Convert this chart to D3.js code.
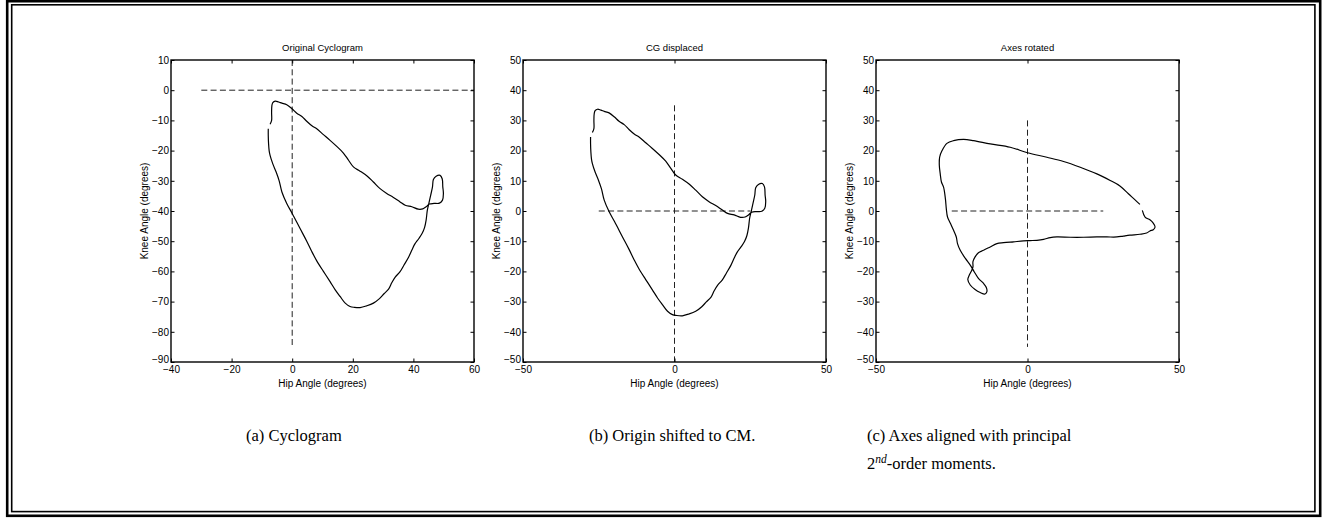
<!DOCTYPE html>
<html>
<head>
<meta charset="utf-8">
<script src="https://cdn.jsdelivr.net/npm/d3@7"></script>
<style>
  html, body { margin: 0; padding: 0; background: #fff; }
  svg { display: block; }
  .tick text { font-family: "Liberation Sans", Arial, sans-serif; font-size: 10px; fill: #000; }
</style>
</head>
<body>
<svg id="chart" width="1323" height="518"></svg>
<script>
// ---------------- data ----------------
const panelTitles = ["Original Cyclogram", "CG displaced", "Axes rotated"];
const xAxisLabel = "Hip Angle (degrees)";
const yAxisLabel = "Knee Angle (degrees)";
const captionA = "(a) Cyclogram";
const captionB = "(b) Origin shifted to CM.";
const captionC1 = "(c) Axes aligned with principal";
const captionC2 = ["2", "nd", "-order moments."];

const xDomainA = [-40, 60];
const yDomainA = [-90, 10];
const xDomainBC = [-50, 50];
const yDomainBC = [-50, 50];
const xTicksA = [-40, -20, 0, 20, 40, 60];
const yTicksA = [10, 0, -10, -20, -30, -40, -50, -60, -70, -80, -90];
const xTicksBC = [-50, 0, 50];
const yTicksBC = [50, 40, 30, 20, 10, 0, -10, -20, -30, -40, -50];

// dashed reference cross: [from, to] of horizontal (knee = 0) and vertical (hip = 0) lines
const crossHA = [-30, 60], crossVA = [-85, 10];
const crossHB = [-25, 25], crossVB = [-50, 35];
const crossHC = [-25, 25], crossVC = [-45, 30];

// (a) original cyclogram
const hipA = [-7.3,-6.8,-6.8,-6.7,-6.4,-5.6,-4.5,-3.4,-1.8,0,1.5,3.2,4.8,6.5,8.1,10.3,12.5,14.7,16.9,18.6,20.2,22.4,24.8,26.8,29.0,31.2,33.4,35.6,37.3,39.5,41.6,43.1,44.2,45.3,46.8,48.6,49.6,49.9,49.7,49.5,48.8,47.5,46.6,46.3,45.7,45.1,44.6,44.2,43.7,42.9,41.8,40.5,39.5,38.4,36.9,35.6,34.0,32.9,31.8,30.3,28.8,26.8,24.6,22.4,20.5,19.1,17.5,15.8,14.2,12.5,10.3,8.1,6.5,4.8,2.6,0,-1.8,-3.4,-4.3,-5.3,-6.4,-7.3,-7.6,-7.8,-7.9,-7.9];
const kneeA = [-11.3,-10.0,-7.3,-5.1,-4.1,-3.6,-3.9,-4.3,-4.8,-6.2,-7.6,-8.7,-10.3,-11.8,-12.8,-14.7,-16.6,-18.6,-20.8,-23.2,-25.4,-26.8,-28.5,-30.4,-32.6,-34.2,-35.5,-37.0,-38.1,-38.6,-39.4,-39.3,-38.6,-37.7,-37.5,-37.4,-36.4,-34.2,-32.0,-29.3,-28.2,-28.5,-29.6,-32.0,-34.8,-37.5,-39.7,-43.0,-45.4,-47.4,-49.1,-50.9,-52.9,-55.3,-57.9,-60.1,-61.9,-63.7,-65.9,-67.4,-69.0,-70.5,-71.4,-72.0,-71.9,-71.6,-70.5,-68.3,-66.1,-63.4,-60.0,-56.5,-53.5,-50.0,-45.8,-40.8,-37.5,-33.7,-30.0,-27.1,-24.4,-21.6,-20.1,-17.7,-15.0,-12.8];

// (b) origin shifted to centre of mass
const hipB = [-27.1,-26.6,-26.6,-26.5,-26.2,-25.4,-24.3,-23.2,-21.6,-19.8,-18.3,-16.6,-15.0,-13.3,-11.7,-9.5,-7.3,-5.1,-2.9,-1.2,0.4,2.6,5.0,7.0,9.2,11.4,13.6,15.8,17.5,19.7,21.8,23.3,24.4,25.5,27.0,28.8,29.8,30.1,29.9,29.7,29.0,27.7,26.8,26.5,25.9,25.3,24.8,24.4,23.9,23.1,22.0,20.7,19.7,18.6,17.1,15.8,14.2,13.1,12.0,10.5,9.0,7.0,4.8,2.6,0.7,-0.7,-2.3,-4.0,-5.6,-7.3,-9.5,-11.7,-13.3,-15.0,-17.2,-19.8,-21.6,-23.2,-24.1,-25.1,-26.2,-27.1,-27.4,-27.6,-27.7,-27.7];
const kneeB = [26.0,27.3,30.0,32.2,33.2,33.7,33.4,33.0,32.5,31.1,29.7,28.6,27.0,25.5,24.5,22.6,20.7,18.7,16.5,14.1,11.9,10.5,8.8,6.9,4.7,3.1,1.8,0.3,-0.8,-1.3,-2.1,-2.0,-1.3,-0.4,-0.2,-0.1,0.9,3.1,5.3,8.0,9.1,8.8,7.7,5.3,2.5,-0.2,-2.4,-5.7,-8.1,-10.1,-11.8,-13.6,-15.6,-18.0,-20.6,-22.8,-24.6,-26.4,-28.6,-30.1,-31.7,-33.2,-34.1,-34.7,-34.6,-34.3,-33.2,-31.0,-28.8,-26.1,-22.7,-19.2,-16.2,-12.7,-8.5,-3.5,-0.2,3.6,7.3,10.2,12.9,15.7,17.2,19.6,22.3,24.5];

// (c) axes rotated onto principal moments
const hipC = [37.9,38.8,40.4,41.5,42.1,41.5,40.4,39.3,37.1,33.8,31.6,29.5,26.2,22.9,18.5,14.1,9.7,7.5,5.3,3.1,0.9,-1.3,-4.6,-7.9,-10.1,-12.3,-14.5,-16.2,-17.3,-18.0,-18.0,-18.4,-19.2,-19.7,-18.9,-17.3,-15.6,-14.0,-13.4,-13.6,-14.5,-16.2,-17.6,-18.9,-20.5,-22.2,-23.1,-23.5,-24.4,-25.5,-26.4,-26.8,-27.1,-27.7,-28.4,-28.8,-29.1,-29.0,-28.2,-26.6,-24.4,-21.1,-17.8,-12.3,-5.7,0,6.4,11.9,17.4,22.9,27.3,30.5,33.3,35.5,37.1];
const kneeC = [0.2,-2.0,-2.9,-4.0,-5.3,-6.2,-6.6,-7.3,-7.7,-8.0,-8.3,-8.6,-8.6,-8.6,-8.7,-8.7,-8.6,-8.8,-9.4,-9.7,-9.8,-9.9,-10.2,-10.5,-10.8,-11.9,-13.0,-13.8,-15.2,-16.8,-18.5,-19.6,-21.2,-22.7,-24.5,-26.0,-27.0,-27.5,-26.7,-25.3,-24.0,-22.3,-20.1,-17.9,-15.7,-13.0,-10.8,-8.6,-6.4,-4.0,-2.0,0.8,4.1,7.9,9.6,12.3,15.1,17.8,20.0,22.4,23.3,23.7,23.3,22.2,21.1,19.3,17.8,16.4,14.5,12.3,10.1,8.3,5.7,3.7,2.2];

// ---------------- drawing ----------------
const svg = d3.select("#chart");
const FONT = '"Liberation Sans", Arial, Helvetica, sans-serif';
const SERIF = '"Liberation Serif", "Times New Roman", serif';

// double frame
svg.append("rect").attr("x", 7.2).attr("y", 1.2).attr("width", 1313).attr("height", 514.6)
  .attr("fill", "none").attr("stroke", "#000").attr("stroke-width", 2.6);
svg.append("rect").attr("x", 11.7).attr("y", 4.8).attr("width", 1303.2).attr("height", 506.8)
  .attr("fill", "none").attr("stroke", "#000").attr("stroke-width", 1.6);

const panels = [
  { left: 171, title: panelTitles[0], xd: xDomainA, yd: yDomainA, xt: xTicksA, yt: yTicksA, hip: hipA, knee: kneeA, ch: crossHA, cv: crossVA },
  { left: 523, title: panelTitles[1], xd: xDomainBC, yd: yDomainBC, xt: xTicksBC, yt: yTicksBC, hip: hipB, knee: kneeB, ch: crossHB, cv: crossVB },
  { left: 876, title: panelTitles[2], xd: xDomainBC, yd: yDomainBC, xt: xTicksBC, yt: yTicksBC, hip: hipC, knee: kneeC, ch: crossHC, cv: crossVC }
];
const PW = 303, PT = 60, PH = 302;

panels.forEach(p => {
  const x = d3.scaleLinear().domain(p.xd).range([p.left, p.left + PW]);
  const y = d3.scaleLinear().domain(p.yd).range([PT + PH, PT]);
  const g = svg.append("g");

  // dashed cross
  g.append("line").attr("x1", x(p.ch[0])).attr("x2", x(p.ch[1])).attr("y1", y(0)).attr("y2", y(0))
    .attr("stroke", "#222").attr("stroke-width", 1).attr("stroke-dasharray", "6,3.3");
  g.append("line").attr("x1", x(0)).attr("x2", x(0)).attr("y1", y(p.cv[1])).attr("y2", y(p.cv[0]))
    .attr("stroke", "#222").attr("stroke-width", 1).attr("stroke-dasharray", "6,3.3");

  // cyclogram
  const pts = p.hip.map((h, i) => [h, p.knee[i]]);
  g.append("path").datum(pts)
    .attr("d", d3.line().x(d => x(d[0])).y(d => y(d[1])).curve(d3.curveCatmullRom.alpha(0.5)))
    .attr("fill", "none").attr("stroke", "#000").attr("stroke-width", 1.2);

  // axes (ticks inward on all sides)
  const bottom = g.append("g").attr("transform", `translate(0,${PT + PH})`)
    .call(d3.axisBottom(x).tickValues(p.xt).tickSizeInner(-3.5).tickSizeOuter(0).tickPadding(4));
  const left = g.append("g").attr("transform", `translate(${p.left},0)`)
    .call(d3.axisLeft(y).tickValues(p.yt).tickSizeInner(-3.5).tickSizeOuter(0).tickPadding(2));
  const top = g.append("g").attr("transform", `translate(0,${PT})`)
    .call(d3.axisTop(x).tickValues(p.xt).tickSizeInner(-3.5).tickSizeOuter(0).tickFormat(""));
  const right = g.append("g").attr("transform", `translate(${p.left + PW},0)`)
    .call(d3.axisRight(y).tickValues(p.yt).tickSizeInner(-3.5).tickSizeOuter(0).tickFormat(""));
  [bottom, left, top, right].forEach(a => {
    a.select(".domain").remove();
    a.selectAll(".tick line").attr("stroke", "#000").attr("stroke-width", 1);
    a.selectAll(".tick text").attr("font-family", FONT).attr("font-size", 10);
  });
  // lowest y label sits just above the x labels, as in the reference
  left.selectAll(".tick text").filter(d => d === p.yd[0]).attr("dy", "0.05em");

  g.append("rect").attr("x", p.left).attr("y", PT).attr("width", PW).attr("height", PH)
    .attr("fill", "none").attr("stroke", "#000").attr("stroke-width", 1.4);

  // labels
  g.append("text").attr("x", p.left + PW / 2).attr("y", 51).attr("text-anchor", "middle")
    .attr("font-family", FONT).attr("font-size", 9.5).text(p.title);
  g.append("text").attr("x", p.left + PW / 2).attr("y", 387).attr("text-anchor", "middle")
    .attr("font-family", FONT).attr("font-size", 10).text(xAxisLabel);
  g.append("text").attr("transform", `translate(${p.left - 23},${PT + PH / 2}) rotate(-90)`)
    .attr("text-anchor", "middle").attr("font-family", FONT).attr("font-size", 10).text(yAxisLabel);
});

// captions
const capSize = 16.5;
svg.append("text").attr("x", 246).attr("y", 441).attr("font-family", SERIF).attr("font-size", capSize).text(captionA);
svg.append("text").attr("x", 589).attr("y", 441).attr("font-family", SERIF).attr("font-size", capSize).text(captionB);
svg.append("text").attr("x", 867).attr("y", 441).attr("font-family", SERIF).attr("font-size", capSize).text(captionC1);
const c2 = svg.append("text").attr("x", 867).attr("y", 469).attr("font-family", SERIF).attr("font-size", capSize);
c2.append("tspan").text(captionC2[0]);
c2.append("tspan").attr("dy", -6).attr("font-size", 11.5).attr("font-style", "italic").text(captionC2[1]);
c2.append("tspan").attr("dy", 6).text(captionC2[2]);
</script>
</body>
</html>
